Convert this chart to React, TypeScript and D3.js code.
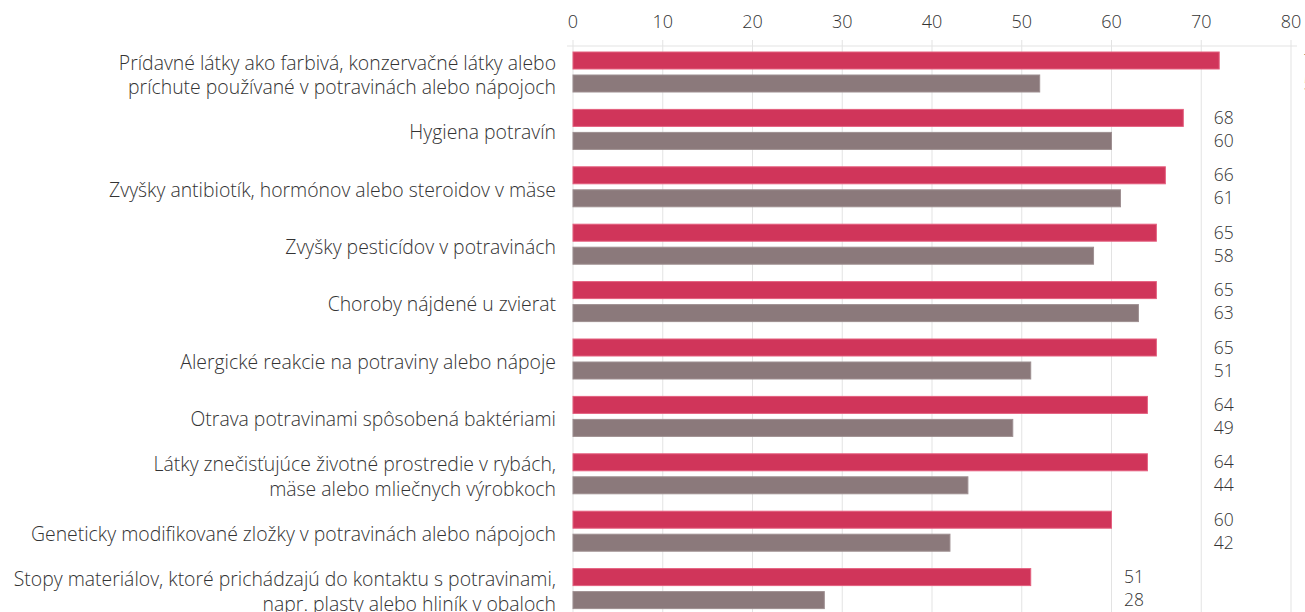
import React from "react";
import * as d3 from "d3";

const categories: string[][] = [
  ["Prídavné látky ako farbivá, konzervačné látky alebo", "príchute používané v potravinách alebo nápojoch"],
  ["Hygiena potravín"],
  ["Zvyšky antibiotík, hormónov alebo steroidov v mäse"],
  ["Zvyšky pesticídov v potravinách"],
  ["Choroby nájdené u zvierat"],
  ["Alergické reakcie na potraviny alebo nápoje"],
  ["Otrava potravinami spôsobená baktériami"],
  ["Látky znečisťujúce životné prostredie v rybách,", "mäse alebo mliečnych výrobkoch"],
  ["Geneticky modifikované zložky v potravinách alebo nápojoch"],
  ["Stopy materiálov, ktoré prichádzajú do kontaktu s potravinami,", "napr. plasty alebo hliník v obaloch"],
];
const seriesA: number[] = [72, 68, 66, 65, 65, 65, 64, 64, 60, 51];
const seriesB: number[] = [52, 60, 61, 58, 63, 51, 49, 44, 42, 28];
const ticks: number[] = [0, 10, 20, 30, 40, 50, 60, 70, 80];

const W = 1305;
const H = 612;
const FONT = "'Open Sans', sans-serif";

export default function App() {
  const x = d3.scaleLinear().domain([0, 80]).range([573, 1291]);
  const y = d3
    .scaleBand<number>()
    .domain(d3.range(categories.length))
    .range([46, 46 + 57.4 * categories.length])
    .paddingInner(0)
    .paddingOuter(0);
  const barH = 17;
  const offA = 6;
  const offB = 29;

  return (
    <svg
      width={W}
      height={H}
      style={{ position: "absolute", left: 0, top: 0, background: "#fff" }}
      fontFamily={FONT}
    >
      {ticks.map((t) => (
        <g key={t}>
          <line x1={x(t)} x2={x(t)} y1={40} y2={H} stroke="#e3e3e3" strokeWidth={1} />
          <text x={x(t)} y={28} textAnchor="middle" fontSize={18} fontWeight={300} fill="#333">
            {t}
          </text>
        </g>
      ))}
      <line x1={567} x2={1297} y1={46} y2={46} stroke="#e3e3e3" strokeWidth={1} />
      {categories.map((lines, i) => {
        const top = y(i)!;
        const center = top + offA + (offB + barH - offA) / 2 + 3;
        const lh = 24.5;
        const y0 = center - ((lines.length - 1) * lh) / 2;
        const a = seriesA[i];
        const b = seriesB[i];
        const lx = x(Math.floor(Math.max(a, b) / 10) * 10 + 10 + 1.4);
        return (
          <g key={i}>
            {lines.map((ln, j) => (
              <text
                key={j}
                x={556}
                y={y0 + j * lh}
                dy="0.35em"
                textAnchor="end"
                fontSize={19.4}
                fontWeight={300}
                fill="#333"
              >
                {ln}
              </text>
            ))}
            <rect
              x={x(0)}
              y={top + offA}
              width={x(a) - x(0)}
              height={barH}
              fill="#d0355a"
              stroke="#e4607f"
              strokeWidth={1}
            />
            <rect
              x={x(0)}
              y={top + offB}
              width={x(b) - x(0)}
              height={barH}
              fill="#8b797b"
              stroke="#9e8f91"
              strokeWidth={1}
            />
            <text x={lx} y={top + offA + barH / 2} dy="0.35em" fontSize={17.5} fontWeight={300} fill="#333">
              {a}
            </text>
            <text x={lx} y={top + offB + barH / 2} dy="0.35em" fontSize={17.5} fontWeight={300} fill="#333">
              {b}
            </text>
          </g>
        );
      })}
    </svg>
  );
}
